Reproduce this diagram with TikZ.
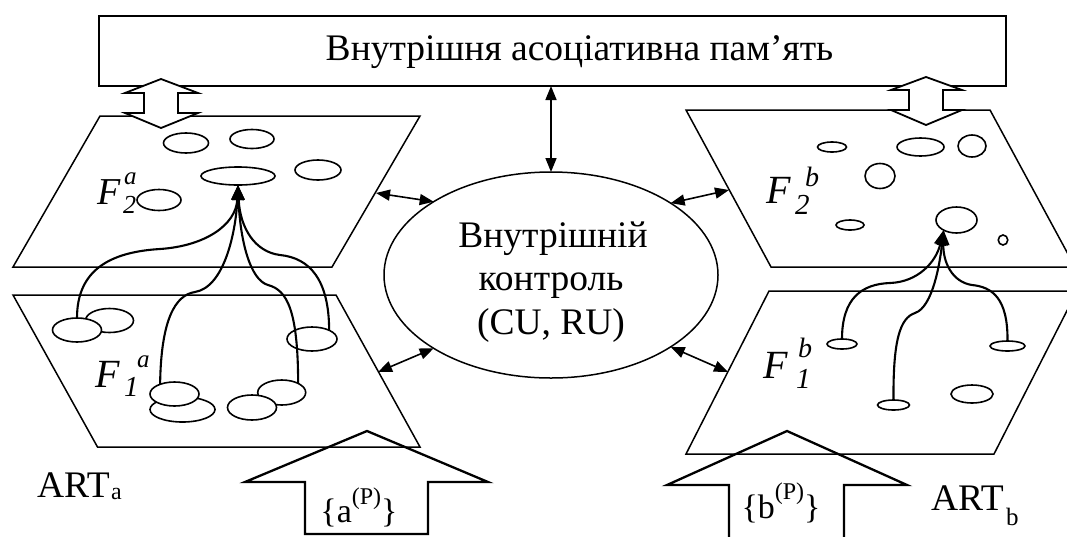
\documentclass[tikz,border=0pt]{standalone}
\usepackage{fontspec}
\setmainfont{Liberation Serif}
\usetikzlibrary{arrows.meta,shapes.geometric}
\tikzset{
  plane/.style={line width=1.5pt, line join=miter},
  blob/.style={ellipse, draw, fill=white, line width=1.6pt, inner sep=0pt, outer sep=0pt},
  hollowup/.style={line width=1.8pt, line join=miter, fill=white},
  hollowin/.style={line width=2.3pt, line join=miter},
  dbl/.style={line width=1.6pt, {Triangle[length=14pt,width=11pt]}-{Triangle[length=14pt,width=11pt]}},
  link/.style={line width=2.1pt, -{Triangle[length=15pt,width=12pt]}},
  txt/.style={inner sep=0pt, outer sep=0pt, font=\fontsize{37.5}{45}\selectfont},
  lab/.style={anchor=base west, inner sep=0pt, outer sep=0pt},
}
\newcommand{\myblob}[5]{\node[blob, minimum width=#4pt, minimum height=#5pt] (#1) at (#2,#3) {};}
\newcommand{\fs}[1]{\fontsize{#1}{#1}\selectfont}
\begin{document}
\begin{tikzpicture}[x=1pt,y=-1pt]
\clip (0,0) rectangle (1067,536);
% memory box
\node[draw, line width=1.5pt, minimum width=907pt, minimum height=70pt, inner sep=0pt, outer sep=0pt] (mem) at (552.5,51) {};
\node[txt, anchor=base] (memtxt) at (579.5,60) {Внутрішня асоціативна пам’ять};
% planes
\draw[plane] (100,116) -- (420,116) -- (332,267) -- (13,267) -- cycle;
\draw[plane] (13,295) -- (336,295) -- (420,447) -- (97.5,447) -- cycle;
\draw[plane] (686,110) -- (990,110) -- (1075,267) -- (771,267) -- cycle;
\draw[plane] (769,291) -- (1077,291) -- (994,454) -- (686,454) -- cycle;
\coordinate (p2a) at (376,193);
\coordinate (p1a) at (378,372);
\coordinate (p2b) at (729,190);
\coordinate (p1b) at (728,372);
% F2a blobs
\myblob{a21}{186}{143}{45}{20}
\myblob{a22}{252}{139}{44}{19}
\myblob{a2big}{238}{176}{74}{18}
\myblob{a23}{318}{170}{46}{20}
\myblob{a24}{159}{200}{44}{21}
% F1a blobs
\myblob{aB}{109.5}{320.5}{48}{24}
\myblob{aA}{77}{330}{49}{24}
\myblob{aC}{312}{339}{50}{24}
\myblob{aE}{182.5}{409.5}{65}{25}
\myblob{aD}{174.5}{394}{49}{24}
\myblob{aF}{281.7}{392.5}{48}{25}
\myblob{aG}{252}{407.5}{49}{25}
% F2b blobs
\myblob{b21}{832}{147}{29}{10}
\myblob{b22}{920.5}{147}{47}{18}
\myblob{b23}{972}{146}{28}{22}
\myblob{b24}{880}{176}{30}{25}
\myblob{b2t}{956.5}{220}{41}{26}
\myblob{b25}{850}{225}{28}{10}
\myblob{b26}{1003}{240}{9.5}{10}
% F1b blobs
\myblob{b11}{842}{344}{30}{10}
\myblob{b12}{1007.5}{346}{35}{10}
\myblob{b13}{893.5}{405}{32}{10}
\myblob{b14}{972}{394}{42}{18}
% labels F
\node[lab, font=\fs{38}\itshape] (f2a) at (97,204) {F};
\node[lab, font=\fs{25}\itshape] (f2a-sup) at (124,184) {a};
\node[lab, font=\fs{26}\itshape] (f2a-sub) at (123,213) {2};
\node[lab, font=\fs{40}\itshape] (f1a) at (95,387) {F};
\node[lab, font=\fs{25}\itshape] (f1a-sup) at (137,367) {a};
\node[lab, font=\fs{29}\itshape] (f1a-sub) at (124,396) {1};
\node[lab, font=\fs{40}\itshape] (f2b) at (766,203) {F};
\node[lab, font=\fs{28}\itshape] (f2b-sup) at (805,186) {b};
\node[lab, font=\fs{29}\itshape] (f2b-sub) at (795,214) {2};
\node[lab, font=\fs{40}\itshape] (f1b) at (763,378) {F};
\node[lab, font=\fs{28}\itshape] (f1b-sup) at (798,357) {b};
\node[lab, font=\fs{29}\itshape] (f1b-sub) at (796,388) {1};
% control
\node[ellipse, draw, line width=1.5pt, minimum width=334pt, minimum height=206pt, inner sep=0pt, outer sep=0pt] (ctrl) at (551,275) {};
\node[txt, anchor=base] (ctrl-l1) at (553,247) {Внутрішній};
\node[txt, anchor=base] (ctrl-l2) at (551,290) {контроль};
\node[txt, anchor=base] (ctrl-l3) at (551,334) {(CU, RU)};
% ART labels
\node[txt, lab] (arta) at (37,497) {ART};
\node[lab, font=\fs{24}] (arta-sub) at (111,499) {a};
\node[txt, lab] (artb) at (931,510) {ART};
\node[lab, font=\fs{25}] (artb-sub) at (1006,525) {b};
% links F1a -> F2a
\draw[link] (aA.north) .. controls (77,270) and (110,252) .. (160,249) .. controls (205,246) and (236,225) .. (a2big.south);
\draw[link] (aD.146) .. controls (161,320) and (175,295) .. (195,292) .. controls (225,287) and (236,230) .. (a2big.south);
\draw[link] (aF.29) .. controls (298,310) and (287,290) .. (268,285) .. controls (250,280) and (240,240) .. (a2big.south);
\draw[link] (aC.27) .. controls (329,280) and (310,258) .. (280,255) .. controls (255,252) and (240,228) .. (a2big.south);
% links F1b -> F2b
\draw[link] (b11.north) .. controls (842,298) and (862,284) .. (890,283) .. controls (918,282) and (936,262) .. (b2t.218);
\draw[link] (b13.north) .. controls (893,340) and (900,318) .. (915,313) .. controls (933,307) and (940,262) .. (b2t.218);
\draw[link] (b12.north) .. controls (1008,298) and (992,287) .. (972,285) .. controls (952,282) and (943,262) .. (b2t.218);
% control arrows
\draw[dbl] (ctrl.north |- mem.south) -- (ctrl.north);
\draw[dbl] (p2a) -- (ctrl.148.8);
\draw[dbl] (p2b) -- (ctrl.31.5);
\draw[dbl] (p1a) -- (ctrl.212.2);
\draw[dbl] (p1b) -- (ctrl.-31.5);
% hollow double arrows memory <-> F2
\draw[hollowup] (161,79) -- (198,93) -- (178,93) -- (178,113) -- (198,113) -- (161,128) -- (125,113) -- (144,113) -- (144,93) -- (125,93) -- cycle;
\draw[hollowup] (926,77) -- (962,90) -- (943,90) -- (943,110) -- (962,110) -- (926,125) -- (891,110) -- (909,110) -- (909,90) -- (891,90) -- cycle;
% input arrows
\draw[hollowin] (367,431) -- (488,482) -- (428,482) -- (428,534) -- (305,534) -- (305,482) -- (245,482) -- cycle;
\draw[hollowin] (729,545) -- (729,485) -- (667,485) -- (787,431) -- (907,485) -- (844,485) -- (844,545);
\node[anchor=base, inner sep=0pt, font=\fs{34}] (ina) at (359,522) {\{a\raisebox{18pt}{\fs{24}(P)}\}};
\node[anchor=base, inner sep=0pt, font=\fs{34}] (inb) at (781,518) {\{b\raisebox{19pt}{\fs{24}(P)}\}};
\end{tikzpicture}
\end{document}
